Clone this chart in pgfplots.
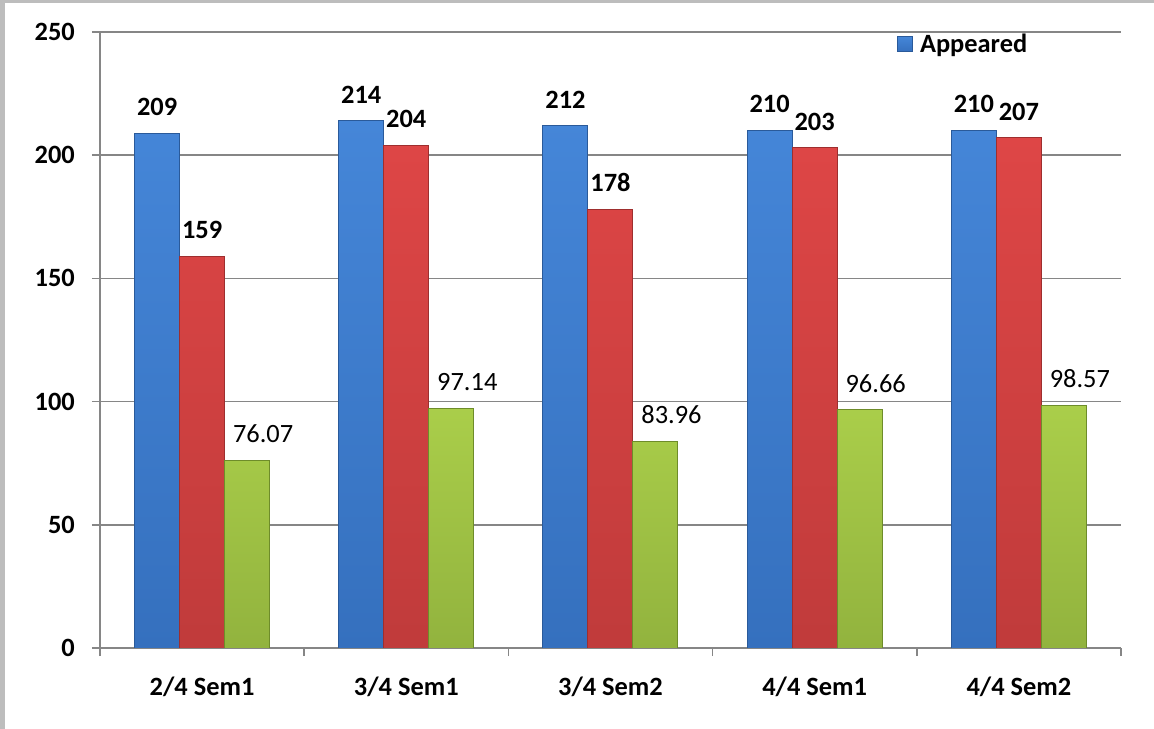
\documentclass[border=0pt]{standalone}
\usepackage{fontspec}
\setmainfont{Carlito}
\usepackage{pgfplots}
\pgfplotsset{compat=1.18}

\definecolor{axisgray}{HTML}{868686}
\definecolor{framegray}{HTML}{BDBDBD}
\definecolor{blueTop}{HTML}{4586D8}
\definecolor{blueBot}{HTML}{3570BE}
\definecolor{blueEdge}{HTML}{2A5A9A}
\definecolor{redTop}{HTML}{DE4646}
\definecolor{redBot}{HTML}{C03B3B}
\definecolor{redEdge}{HTML}{9E2E2E}
\definecolor{greenTop}{HTML}{AACE4A}
\definecolor{greenBot}{HTML}{92B33E}
\definecolor{greenEdge}{HTML}{6E8C2A}

\newcommand{\lblfont}{\fontsize{26.5}{30}\selectfont}

\begin{document}
\begin{tikzpicture}
\useasboundingbox (-100bp,-81bp) rectangle (1054bp,648bp);
\fill[framegray] (-100bp,-81bp) rectangle (1054bp,648bp);
\fill[white] (-95bp,-81bp) rectangle (1054bp,645bp);
\begin{axis}[
    scale only axis,
    width=1021bp, height=616bp,
    xmin=-0.5, xmax=4.5,
    ymin=0, ymax=250,
    ytick={0,50,...,250},
    xtick={-0.5,0.5,1.5,2.5,3.5,4.5},
    xticklabels={,,,,,},
    extra x ticks={0,1,2,3,4},
    extra x tick labels={2/4 Sem1,3/4 Sem1,3/4 Sem2,4/4 Sem1,4/4 Sem2},
    extra x tick style={major tick length=0pt,
        xticklabel style={yshift=-29bp}},
    axis x line*=bottom, axis y line*=left,
    axis line style={-, draw=axisgray, line width=1.5bp},
    tick align=outside, major tick length=8bp,
    tick style={draw=axisgray, line width=1.5bp},
    ymajorgrids,
    grid style={draw=axisgray, line width=1.5bp},
    /pgf/number format/assume math mode=true,
    ticklabel style={font=\bfseries\lblfont, inner sep=0pt},
    yticklabel style={xshift=-17bp},
    ybar=0pt, bar width=45bp,
    nodes near coords,
    every node near coord/.append style={inner sep=0pt, yshift=17bp, text=black},
    legend style={at={(rel axis cs:0.78,1)}, anchor=north west,
        draw=none, fill=none, inner sep=0pt,
        font=\bfseries\lblfont},
    legend image code/.code={
        \fill[top color=blueTop, bottom color=blueBot, draw=blueEdge]
            (0bp,-7.5bp) rectangle (15bp,7.5bp);
        \path[draw=none, fill=none] (15bp,0bp) -- (21bp,0bp);},
]
\addplot[top color=blueTop, bottom color=blueBot, draw=blueEdge, line width=1bp,
    every node near coord/.append style={font=\bfseries\lblfont}]
    coordinates {(0,209) (1,214) (2,212) (3,210) (4,210)};
\addplot[top color=redTop, bottom color=redBot, draw=redEdge, line width=1bp,
    every node near coord/.append style={font=\bfseries\lblfont}]
    coordinates {(0,159) (1,204) (2,178) (3,203) (4,207)};
\addplot[top color=greenTop, bottom color=greenBot, draw=greenEdge, line width=1bp,
    every node near coord/.append style={font=\lblfont, xshift=16bp}]
    coordinates {(0,76.07) (1,97.14) (2,83.96) (3,96.66) (4,98.57)};
\legend{Appeared}
\end{axis}
\end{tikzpicture}
\end{document}
